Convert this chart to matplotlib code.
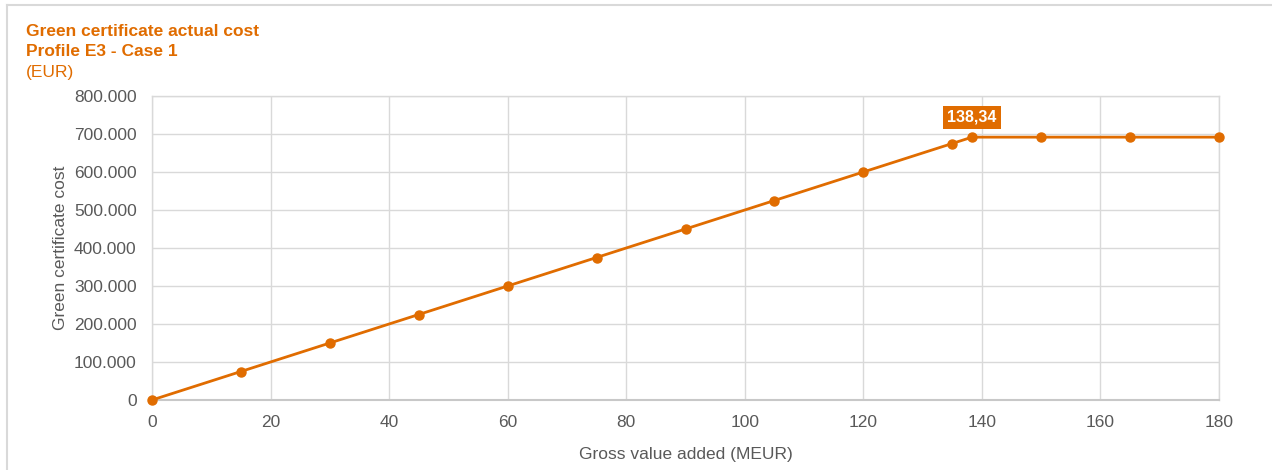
import numpy as np
import matplotlib.pyplot as plt
from matplotlib.ticker import FuncFormatter
from matplotlib.lines import Line2D

plt.rcParams['font.family'] = ['Liberation Sans', 'DejaVu Sans']

# Data
gva = [0, 15, 30, 45, 60, 75, 90, 105, 120, 135, 138.34, 150, 165, 180]
cost = [0, 75000, 150000, 225000, 300000, 375000, 450000, 525000, 600000,
        675000, 691700, 691700, 691700, 691700]
label_x = 138.34
label_y = 691700
label_text = "138,34"

orange = "#E06C00"
grey_txt = "#595959"
grid_col = "#D9D9D9"

fig = plt.figure(figsize=(12.72, 4.70), dpi=100)
ax = fig.add_axes([152/1272, 1-400/470, (1219-152)/1272, (400-96)/470])

ax.plot(gva, cost, color=orange, linewidth=2, marker="o", markersize=6.5,
        clip_on=False, zorder=3)

ax.set_xlim(0, 180)
ax.set_ylim(0, 800000)
ax.set_xticks(np.arange(0, 181, 20))
ax.set_yticks(np.arange(0, 800001, 100000))
ax.yaxis.set_major_formatter(FuncFormatter(lambda v, p: f"{int(v):,}".replace(",", ".")))
ax.grid(True, color=grid_col, linewidth=1)
ax.set_axisbelow(True)
for s in ax.spines.values():
    s.set_color(grid_col)
    s.set_linewidth(1)
ax.spines['bottom'].set_color("#C8C8C8")
ax.spines['bottom'].set_linewidth(1.5)
ax.tick_params(length=0, colors=grey_txt, labelsize=12.5)
ax.tick_params(axis="y", pad=11)
ax.tick_params(axis="x", pad=11)

ax.set_xlabel("Gross value added (MEUR)", color=grey_txt, fontsize=12.5, labelpad=12)
ax.set_ylabel("Green certificate cost", color=grey_txt, fontsize=12.5, labelpad=4)

# Data label
ax.annotate(label_text, (label_x, label_y), xytext=(0, 14.5), textcoords="offset points",
            ha="center", va="center", color="white", fontsize=11.5, fontweight="bold",
            bbox=dict(boxstyle="square,pad=0.25", fc=orange, ec="none"))

# Title
fig.text(26/1272, 1-31/470, "Green certificate actual cost", color=orange,
         fontsize=12.5, fontweight="bold", va="center")
fig.text(26/1272, 1-52/470, "Profile E3 - Case 1", color=orange,
         fontsize=12.5, fontweight="bold", va="center")
fig.text(26/1272, 1-72/470, "(EUR)", color=orange, fontsize=12.5, va="center")

# Outer frame (top and left)
fig.add_artist(Line2D([7/1272, 1], [1-5/470, 1-5/470], color="#D9D9D9", linewidth=1.5))
fig.add_artist(Line2D([7/1272, 7/1272], [0, 1-5/470], color="#D9D9D9", linewidth=1.5))

fig.savefig("out.png", dpi=100)
